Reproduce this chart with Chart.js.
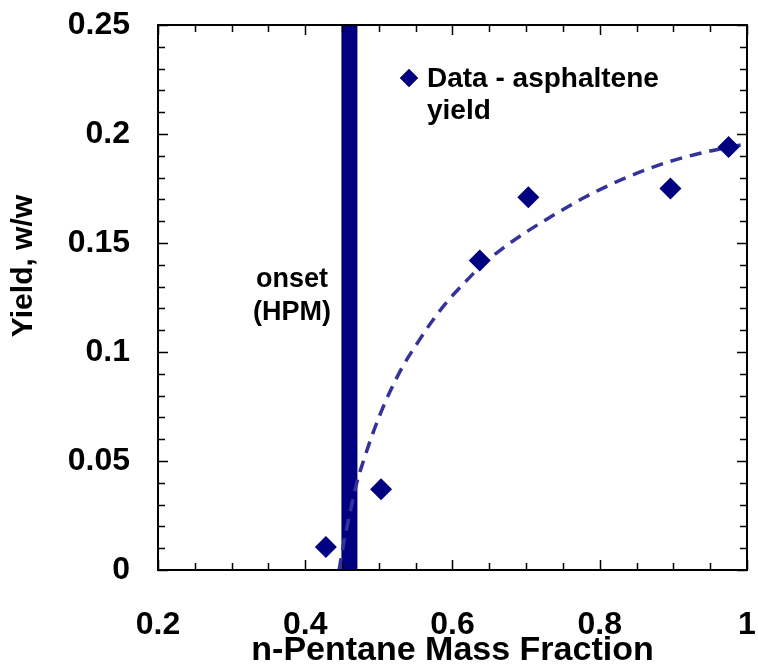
<!DOCTYPE html>
<html>
<head>
<meta charset="utf-8">
<script src="https://cdn.jsdelivr.net/npm/chart.js@4.4.1/dist/chart.umd.min.js"></script>
<style>
  html, body { margin: 0; padding: 0; background: #fff; }
  #wrap { width: 758px; height: 666px; }
</style>
</head>
<body>
<div id="wrap"><canvas id="yieldChart" width="758" height="666"></canvas></div>
<script>
var pentaneFrac = [0.428, 0.503, 0.637, 0.703, 0.896, 0.975];
var yieldVals = [0.0105, 0.037, 0.142, 0.171, 0.175, 0.194];

// dashed fit curve
var fitX = [0.446, 0.452, 0.460, 0.470, 0.480, 0.490, 0.500, 0.515, 0.533, 0.554, 0.571, 0.590, 0.617, 0.639, 0.666, 0.700, 0.731, 0.781, 0.836, 0.895, 0.950, 1.0];
var fitY = [0.0, 0.012, 0.025, 0.040, 0.051, 0.061, 0.0700, 0.0818, 0.0937, 0.1050, 0.1135, 0.1220, 0.1320, 0.1395, 0.1470, 0.1550, 0.1615, 0.1712, 0.1800, 0.1874, 0.1922, 0.1955];

// onset line (HPM)
var onsetX = 0.46;
var yRange = [0, 0.25];
var xRange = [0.2, 1];

var navy = '#000080';
var fontFam = '"Liberation Sans", Arial, sans-serif';

function toXY(xs, ys) {
  var out = [];
  for (var i = 0; i < xs.length; i++) out.push({ x: xs[i], y: ys[i] });
  return out;
}

function isMajor(v, step) {
  var r = v / step;
  return Math.abs(r - Math.round(r)) < 1e-6;
}

// box, inward ticks, titles and the in-plot text
var frameAndText = {
  id: 'frameAndText',
  afterDraw: function (chart) {
    var ctx = chart.ctx;
    var a = chart.chartArea;
    var xs = chart.scales.x, ys = chart.scales.y;
    ctx.save();
    ctx.strokeStyle = '#000';
    ctx.lineWidth = 2;
    ctx.strokeRect(a.left, a.top, a.right - a.left, a.bottom - a.top);

    ctx.lineWidth = 1.5;
    ctx.beginPath();
    xs.ticks.forEach(function (t) {
      var px = Math.round(xs.getPixelForValue(t.value)) + 0.5;
      var len = isMajor(t.value, 0.2) ? 10 : 7;
      ctx.moveTo(px, a.bottom); ctx.lineTo(px, a.bottom - len);
      ctx.moveTo(px, a.top); ctx.lineTo(px, a.top + len);
    });
    ys.ticks.forEach(function (t) {
      var py = Math.round(ys.getPixelForValue(t.value)) + 0.5;
      var len = isMajor(t.value, 0.05) ? 10 : 7;
      ctx.moveTo(a.left, py); ctx.lineTo(a.left + len, py);
      ctx.moveTo(a.right, py); ctx.lineTo(a.right - len, py);
    });
    ctx.stroke();

    ctx.fillStyle = '#000';
    ctx.font = 'bold 34px ' + fontFam;
    ctx.textAlign = 'center';
    ctx.textBaseline = 'middle';
    ctx.fillText('n-Pentane Mass Fraction', (a.left + a.right) / 2, 651);

    ctx.save();
    ctx.translate(24, 266);
    ctx.rotate(-Math.PI / 2);
    ctx.font = 'bold 30px ' + fontFam;
    ctx.fillText('Yield, w/w', 0, 0);
    ctx.restore();

    // onset label
    ctx.font = 'bold 27px ' + fontFam;
    ctx.textBaseline = 'alphabetic';
    ctx.fillText('onset', 292, 287);
    ctx.fillText('(HPM)', 292, 320);

    // legend
    ctx.font = 'bold 28px ' + fontFam;
    ctx.textAlign = 'left';
    ctx.fillText('Data - asphaltene', 427, 87);
    ctx.fillText('yield', 427, 119);
    Chart.helpers.drawPoint(ctx, { pointStyle: 'rectRot', radius: 9, rotation: 0, borderWidth: 0 }, 409, 78);
    ctx.fillStyle = navy;
    ctx.fill();
    ctx.restore();
  }
};

var chartEl = document.getElementById('yieldChart');
var chartConfig = {
  type: 'scatter',
  data: {
    datasets: [{
      label: 'onset',
      type: 'line',
      data: toXY([onsetX, onsetX], yRange),
      borderColor: navy,
      borderWidth: 16,
      borderCapStyle: 'butt',
      pointRadius: 0,
      order: 3
    }, {
      label: 'fit',
      type: 'line',
      data: toXY(fitX, fitY),
      borderColor: '#333399',
      borderWidth: 3.5,
      borderDash: [12, 8],
      cubicInterpolationMode: 'monotone',
      pointRadius: 0,
      order: 2
    }, {
      label: 'Data - asphaltene yield',
      data: toXY(pentaneFrac, yieldVals),
      pointStyle: 'rectRot',
      pointRadius: 11,
      pointBackgroundColor: navy,
      pointBorderColor: navy,
      pointBorderWidth: 0,
      order: 1
    }]
  },
  options: {
    responsive: false,
    animation: false,
    layout: { padding: { top: 25, right: 7, left: 0, bottom: 0 } },
    plugins: {
      legend: { display: false },
      tooltip: { enabled: false }
    },
    scales: {
      x: {
        type: 'linear',
        min: xRange[0],
        max: xRange[1],
        grid: { display: false, drawTicks: false },
        border: { display: false },
        afterFit: function (s) { s.height = 96; s.paddingLeft = 0; s.paddingRight = 0; },
        ticks: {
          stepSize: 0.05,
          autoSkip: false,
          maxRotation: 0,
          padding: 36,
          color: '#000',
          font: { family: fontFam, size: 32, weight: 'bold' },
          callback: function (v) { return isMajor(v, 0.2) ? String(Number(v.toFixed(2))) : ''; }
        }
      },
      y: {
        min: yRange[0],
        max: yRange[1],
        grid: { display: false, drawTicks: false },
        border: { display: false },
        afterFit: function (s) { s.width = 158; s.paddingTop = 0; s.paddingBottom = 0; },
        ticks: {
          stepSize: 0.01,
          autoSkip: false,
          padding: 28,
          color: '#000',
          font: { family: fontFam, size: 32, weight: 'bold' },
          callback: function (v) { return isMajor(v, 0.05) ? String(Number(v.toFixed(2))) : ''; }
        }
      }
    }
  },
  plugins: [frameAndText]
};
var yieldChartObj = new Chart(chartEl, chartConfig);
</script>
</body>
</html>
